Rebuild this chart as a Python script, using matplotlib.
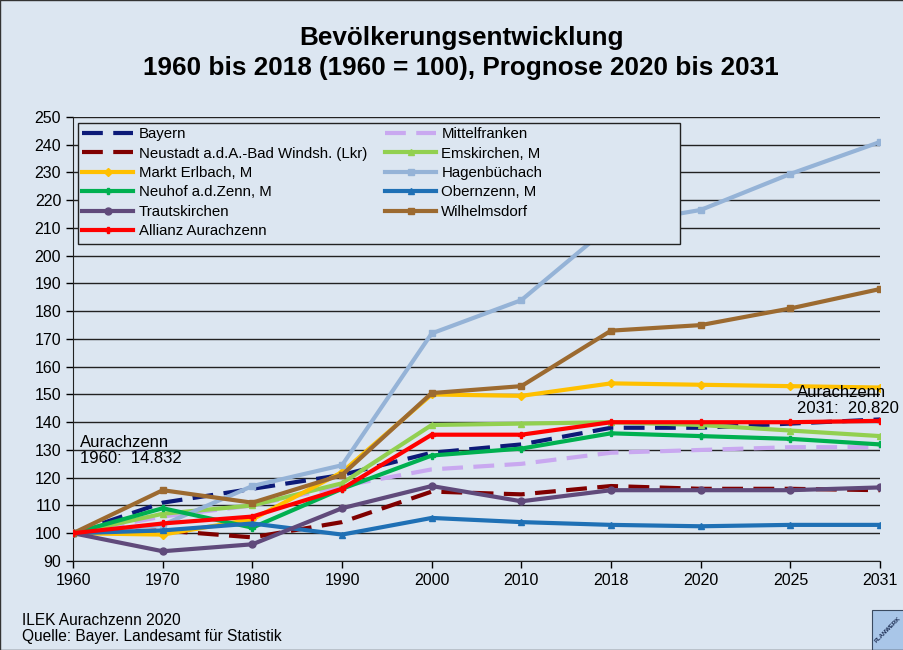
import matplotlib.pyplot as plt
from matplotlib.patches import Rectangle

plt.rcParams["font.family"] = ["Liberation Sans", "DejaVu Sans"]

years = ["1960", "1970", "1980", "1990", "2000", "2010", "2018", "2020", "2025", "2031"]

bayern = [100, 111, 116, 121, 129, 132, 138, 138, 139.5, 141]
mittelfranken = [100, 106, 110, 117, 123, 125, 129, 130, 131, 131]
neustadt = [100, 101, 98.5, 104, 115, 114, 117, 116, 116, 115.5]
emskirchen = [100, 107, 110, 118, 139, 139.5, 140, 139, 137, 135]
markt_erlbach = [100, 99.5, 105, 122, 150, 149.5, 154, 153.5, 153, 152.5]
hagenbuechach = [100, 103, 117, 124.5, 172, 184, 211, 216.5, 229.5, 241]
neuhof = [100, 109, 102, 116, 128, 130.5, 136, 135, 134, 132]
obernzenn = [100, 101, 103.5, 99.5, 105.5, 104, 103, 102.5, 103, 103]
trautskirchen = [100, 93.5, 96, 109, 117, 111.5, 115.5, 115.5, 115.5, 116.5]
wilhelmsdorf = [100, 115.5, 111, 121, 150.5, 153, 173, 175, 181, 188]
allianz = [100, 103.5, 106, 116, 135.5, 135.5, 140, 140, 140, 140.5]

bg = "#dce6f1"
x = list(range(len(years)))

fig = plt.figure(figsize=(9.04, 6.5), dpi=100, facecolor=bg)
ax = fig.add_axes([0.0808, 0.137, 0.8927, 0.683])
ax.set_facecolor(bg)

lw = 3.0
dash = (0, (5, 2.5))
series = [
    ("Bayern", bayern, "#0c1a78", dash, None, 0),
    ("Mittelfranken", mittelfranken, "#c9a8f0", dash, None, 0),
    ("Neustadt a.d.A.-Bad Windsh. (Lkr)", neustadt, "#800000", dash, None, 0),
    ("Emskirchen, M", emskirchen, "#92d050", "-", "^", 4),
    ("Markt Erlbach, M", markt_erlbach, "#ffc000", "-", "D", 4),
    ("Hagenbüchach", hagenbuechach, "#95b3d7", "-", "s", 5),
    ("Neuhof a.d.Zenn, M", neuhof, "#00b050", "-", "P", 4),
    ("Obernzenn, M", obernzenn, "#1f70b5", "-", "^", 5),
    ("Trautskirchen", trautskirchen, "#604a7b", "-", "o", 5),
    ("Wilhelmsdorf", wilhelmsdorf, "#9c6a30", "-", "s", 5),
    ("Allianz Aurachzenn", allianz, "#ff0000", "-", "P", 4),
]

handles = {}
for name, vals, col, ls, mk, ms in series:
    h, = ax.plot(x, vals, color=col, linestyle=ls, linewidth=lw,
                 marker=mk, markersize=ms, label=name, zorder=3)
    handles[name] = h

ax.set_xlim(0, len(years) - 1)
ax.set_ylim(90, 250)
ax.set_yticks(range(90, 251, 10))
ax.set_xticks(x)
ax.set_xticklabels(years)
ax.tick_params(axis="both", labelsize=11.5, colors="black", length=5, width=1)
ax.tick_params(axis="x", pad=4)
ax.grid(axis="y", color="#222222", linewidth=1)
ax.set_axisbelow(True)
for s in ["top", "right"]:
    ax.spines[s].set_visible(False)
for s in ["left", "bottom"]:
    ax.spines[s].set_color("#222222")

# legend box drawn separately so it can be wider than its entries
ax.add_patch(Rectangle((0.0062, 0.714), 0.746, 0.2725, transform=ax.transAxes,
                       facecolor=bg, edgecolor="#222222", linewidth=1, zorder=4))

order = ["Bayern", "Neustadt a.d.A.-Bad Windsh. (Lkr)", "Markt Erlbach, M",
         "Neuhof a.d.Zenn, M", "Trautskirchen", "Allianz Aurachzenn",
         "Mittelfranken", "Emskirchen, M", "Hagenbüchach", "Obernzenn, M",
         "Wilhelmsdorf"]
leg = ax.legend([handles[n] for n in order], order, ncol=2,
                loc="upper left", bbox_to_anchor=(0.006, 0.987),
                fontsize=10.8, frameon=False, handlelength=3.4, handletextpad=0.35,
                labelspacing=0.36, borderpad=0.3, borderaxespad=0,
                columnspacing=1.2)
leg.set_zorder(5)

ax.text(0.08, 129.8, "Aurachzenn\n1960:  14.832", fontsize=12, va="center",
        ha="left", linespacing=1.1, zorder=6)
ax.text(8.07, 147.8, "Aurachzenn\n2031:  20.820", fontsize=12, va="center",
        ha="left", linespacing=1.1, zorder=6)

fig.text(0.51, 0.942, "Bevölkerungsentwicklung", ha="center", va="center",
         fontsize=18.8, fontweight="bold")
fig.text(0.51, 0.895, "1960 bis 2018 (1960 = 100), Prognose 2020 bis 2031",
         ha="center", va="center", fontsize=18.8, fontweight="bold")

fig.text(0.024, 0.033, "ILEK Aurachzenn 2020\nQuelle: Bayer. Landesamt für Statistik",
         ha="left", va="center", fontsize=11.2, linespacing=1.05)

# small logo in the bottom right corner
fig.patches.append(Rectangle((0.965, 0.0), 0.04, 0.062, transform=fig.transFigure,
                             facecolor="#a9c6e8", edgecolor="#3a4a60", linewidth=0.8))
fig.text(0.982, 0.031, "PLANWERK", rotation=45, fontsize=4.3, fontweight="bold",
         ha="center", va="center", color="#1a2a50")

fig.patches.append(Rectangle((0.0005, 0.0005), 0.999, 0.999, transform=fig.transFigure,
                             facecolor="none", edgecolor="#333333", linewidth=1))

plt.savefig("out.png", dpi=100, facecolor=bg)
